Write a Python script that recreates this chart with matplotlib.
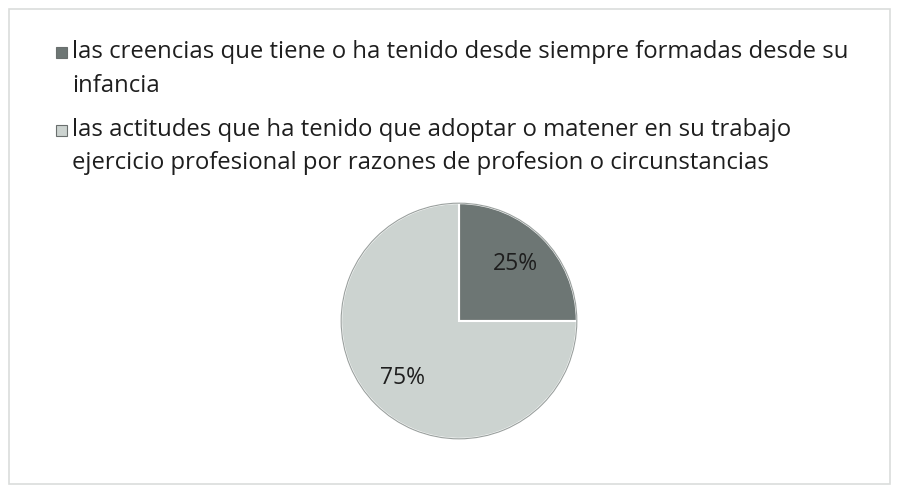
import matplotlib
matplotlib.use("Agg")
import matplotlib.pyplot as plt
from matplotlib.patches import Rectangle

categories = [
    "las creencias que tiene o ha tenido desde siempre formadas desde su\ninfancia",
    "las actitudes que ha tenido que adoptar o matener en su trabajo\nejercicio profesional por razones de profesion o circunstancias",
]
values = [25, 75]
colors = ["#6d7674", "#ccd3d0"]

W, H = 897, 487
fig = plt.figure(figsize=(W / 100, H / 100), dpi=100)
fig.patch.set_facecolor("white")

def fx(px):
    return px / W

def fy(py):
    return 1 - py / H

# outer border
fig.patches.append(Rectangle((fx(9), fy(484)), fx(881), (475) / H, transform=fig.transFigure,
                             fill=False, edgecolor="#dadddc", linewidth=1.2))

# legend (manual)
font = "Open Sans"
line_y = [(52, 86), (130, 163)]
for cat, col, ys in zip(categories, colors, line_y):
    fig.patches.append(Rectangle((fx(56), fy(ys[0] + 6)), fx(11), 11 / H, transform=fig.transFigure,
                                 facecolor=col, edgecolor="#6a6f6e", linewidth=0.8))
    for line, ty in zip(cat.split("\n"), ys):
        fig.text(fx(72), fy(ty), line, fontsize=17.2, family=font, color="#1e1e1e",
                 va="center", ha="left")

# pie
cx, cy, r = 459, 321, 119
ax = fig.add_axes([fx(cx - r), fy(cy + r), 2 * r / W, 2 * r / H])
wedges, texts, autotexts = ax.pie(values, colors=colors, startangle=90, counterclock=False,
                                  autopct="%d%%", pctdistance=0.68,
                                  wedgeprops=dict(edgecolor="white", linewidth=1.5),
                                  textprops=dict(fontsize=16.5, family=font, color="#1e1e1e"))
ax.pie([1], colors=["none"], wedgeprops=dict(edgecolor="#9aa09e", linewidth=0.8, fill=False))
ax.set_xlim(-1.01, 1.01)
ax.set_ylim(-1.01, 1.01)
ax.set_aspect("auto")
ax.axis("off")

fig.savefig("out.png", dpi=100)
